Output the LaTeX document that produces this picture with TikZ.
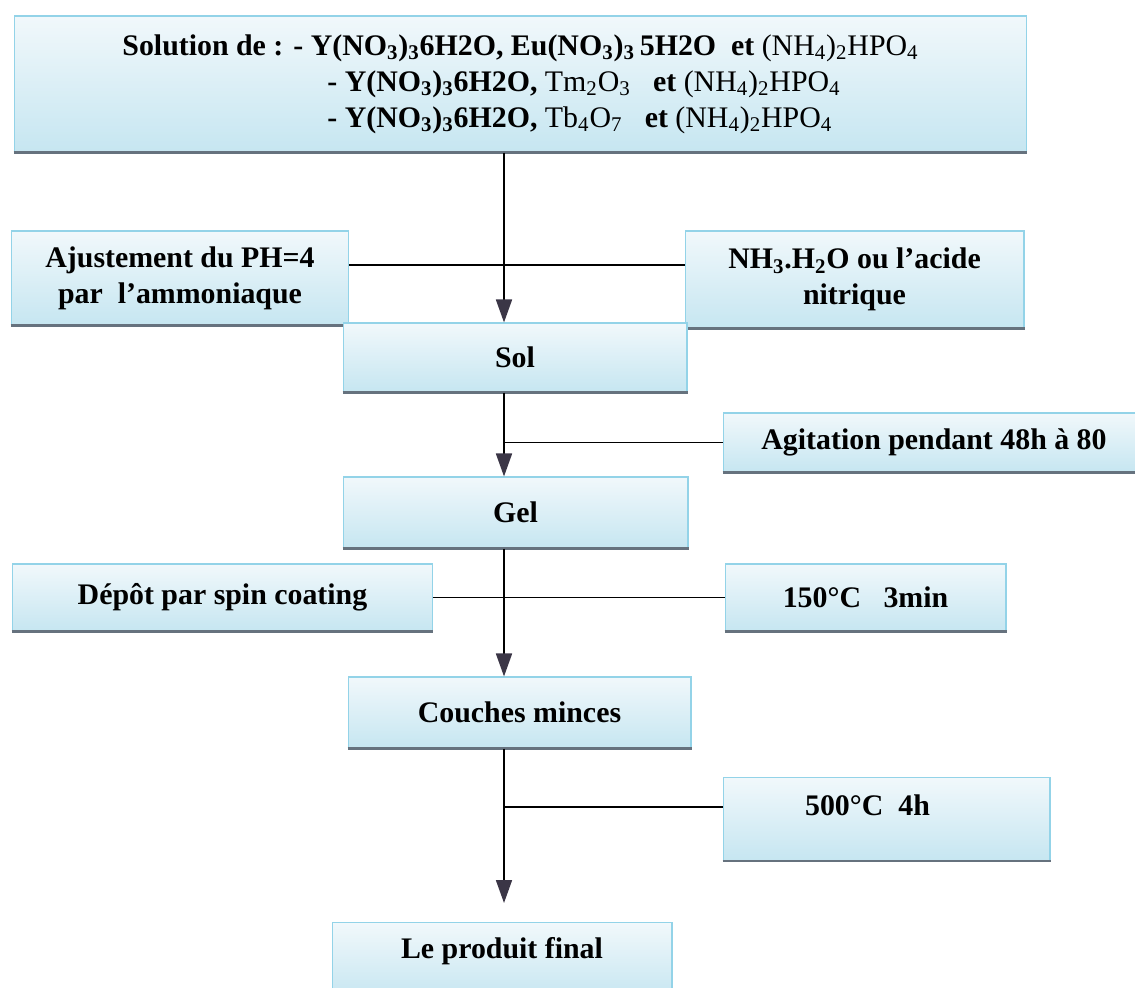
\documentclass[tikz,border=0pt]{standalone}
\usepackage{fontspec}
\setmainfont{Liberation Serif}
\usetikzlibrary{arrows.meta}
\definecolor{boxtop}{HTML}{F1F8FB}
\definecolor{boxbot}{HTML}{C6E6F1}
\definecolor{boxedge}{HTML}{93D3E8}
\definecolor{boxshade}{HTML}{66727E}
\definecolor{tipgray}{HTML}{3B3646}
\tikzset{every picture/.style={line width=1pt}}
\tikzset{
  stage/.style={draw=boxedge, line width=0.6pt, top color=boxtop, bottom color=boxbot,
    inner sep=0pt, align=center, font=\fontsize{17}{20.5}\selectfont\bfseries,
    append after command={(\tikzlastnode.south west) edge[draw=boxshade, line width=1.3pt, -] (\tikzlastnode.south east)}},
  flow/.style={-{Triangle[length=0.46cm, width=0.32cm, color=tipgray]}}
}

\begin{document}
\begin{tikzpicture}[x=0.02cm, y=-0.02cm]
    \useasboundingbox (0,0) rectangle (1135,987);
    \node[stage, minimum width=20.26cm, minimum height=2.72cm, align=left] (solution) at (520.5,84)
        {Solution de : - Y(NO\textsubscript{3})\textsubscript{3}6H2O, Eu(NO\textsubscript{3})\textsubscript{3}\,5H2O\ \ et {\mdseries (NH\textsubscript{4})\textsubscript{2}HPO\textsubscript{4}}\\
        \hspace*{4.1cm}- Y(NO\textsubscript{3})\textsubscript{3}6H2O, {\mdseries Tm\textsubscript{2}O\textsubscript{3}}\ \ \ et {\mdseries (NH\textsubscript{4})\textsubscript{2}HPO\textsubscript{4}}\\
        \hspace*{4.1cm}- Y(NO\textsubscript{3})\textsubscript{3}6H2O, {\mdseries Tb\textsubscript{4}O\textsubscript{7}}\ \ \ et {\mdseries (NH\textsubscript{4})\textsubscript{2}HPO\textsubscript{4}}};
    \node[stage, minimum width=6.76cm, minimum height=1.88cm] (ajust) at (180,278) {Ajustement du PH=4\\par\ \ l’ammoniaque};
    \node[stage, minimum width=6.78cm, minimum height=1.94cm] (nh) at (854.5,279.5) {NH\textsubscript{3}.H\textsubscript{2}O ou l’acide\\nitrique};
    \node[stage, minimum width=6.88cm, minimum height=1.38cm] (sol) at (515,357.5) {Sol};
    \node[stage, minimum width=8.44cm, minimum height=1.18cm] (agit) at (934,442.5) {Agitation pendant 48h à 80};
    \node[stage, minimum width=6.9cm, minimum height=1.42cm] (gel) at (515.5,512.5) {Gel};
    \node[stage, minimum width=8.42cm, minimum height=1.34cm] (depot) at (222.5,597.5) {Dépôt par spin coating};
    \node[stage, minimum width=5.62cm, minimum height=1.34cm] (temp1) at (865.5,597.5) {150°C\ \ \ 3min};
    \node[stage, minimum width=6.86cm, minimum height=1.42cm] (couches) at (519.5,712.5) {Couches minces};
    \node[stage, minimum width=6.54cm, text height=0.76cm, text depth=0.9cm, anchor=north] (temp2) at (886.5,777) {500°C\ \ 4h\hspace*{0.76cm}};
    \node[stage, minimum width=6.8cm, text height=0.72cm, text depth=0.8cm, anchor=north] (produit) at (502,922) {Le produit final};
    \coordinate (spine) at (504,0);
    \coordinate (j1) at (504,265);
    \coordinate (j4) at (504,807);
    \draw[flow] (solution.south -| spine) -- (sol.north -| spine);
    \draw (ajust.east |- j1) -- (nh.west |- j1);
    \draw[flow] (sol.south -| spine) -- (gel.north -| spine);
    \draw (spine |- agit.west) -- (agit.west);
    \draw[flow] (gel.south -| spine) -- (couches.north -| spine);
    \draw (depot.east) -- (temp1.west);
    \draw[flow, shorten >=0.38cm] (couches.south -| spine) -- (produit.north -| spine);
    \draw (j4) -- (temp2.west |- j4);
\end{tikzpicture}
\end{document}
